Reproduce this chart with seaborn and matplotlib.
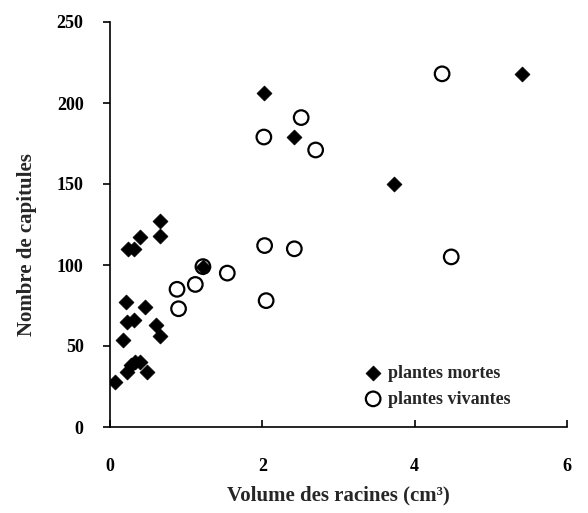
import matplotlib
matplotlib.use("Agg")
import matplotlib.pyplot as plt
import seaborn as sns
import pandas as pd

# Data
mortes_x = [0.07, 0.22, 0.27, 0.33, 0.40, 0.48, 0.17, 0.65, 0.22, 0.31, 0.61,
            0.21, 0.46, 0.24, 0.31, 0.40, 0.65, 0.65, 1.22, 2.02, 2.41, 3.73, 5.41]
mortes_y = [28, 34, 38, 40, 40, 34, 54, 56, 65, 66, 63,
            77, 74, 110, 110, 117, 118, 127, 99, 206, 179, 150, 218]
vivantes_x = [0.88, 0.90, 1.12, 1.22, 1.54, 2.03, 2.05, 2.42, 2.02, 2.51, 2.70, 4.36, 4.48]
vivantes_y = [85, 73, 88, 99, 95, 112, 78, 110, 179, 191, 171, 218, 105]
x_ticks = [0, 2, 4, 6]
y_ticks = [0, 50, 100, 150, 200, 250]
labels = ["plantes mortes", "plantes vivantes"]

sns.set_style("white")
plt.rcParams['font.family'] = ['Liberation Serif', 'DejaVu Serif']
plt.rcParams['font.weight'] = 'bold'

df_m = pd.DataFrame({"x": mortes_x, "y": mortes_y})
df_v = pd.DataFrame({"x": vivantes_x, "y": vivantes_y})

fig = plt.figure(figsize=(5.88, 5.13), dpi=100)
ax = fig.add_axes([110 / 588, 86 / 513, 457 / 588, 405 / 513])

sns.scatterplot(data=df_m, x="x", y="y", ax=ax, marker="D", s=58,
                color="black", edgecolor="black", linewidth=0.5, label=labels[0], zorder=3)
sns.scatterplot(data=df_v, x="x", y="y", ax=ax, marker="o", s=110,
                facecolor="none", edgecolor="black", linewidth=1.6, label=labels[1], zorder=4)

ax.set_xlim(0, 6)
ax.set_ylim(0, 250)
ax.set_xticks(x_ticks)
ax.set_yticks(y_ticks)
ax.set_xticklabels([str(t) for t in x_ticks])
ax.set_yticklabels([str(t) for t in y_ticks])

for side in ["top", "right"]:
    ax.spines[side].set_visible(False)
for side in ["left", "bottom"]:
    ax.spines[side].set_linewidth(1.2)
    ax.spines[side].set_color("black")

ax.tick_params(axis="x", direction="in", length=5, width=1.2, pad=22, labelsize=13, colors="black")
ax.tick_params(axis="y", direction="out", length=5, width=1.2, pad=14, labelsize=13, colors="black")
ax.tick_params(left=True, bottom=True)

ax.set_xlabel("Volume des racines (cm³)", fontsize=15, fontweight="bold", labelpad=8)
ax.set_ylabel("Nombre de capitules", fontsize=15, fontweight="bold")
ax.yaxis.set_label_coords(-0.159, 0.45)

leg = ax.legend(loc="center left", bbox_to_anchor=(0.56, 0.101), frameon=False,
                fontsize=13, handlelength=0.8, handletextpad=0.45, labelspacing=0.5,
                borderpad=0, borderaxespad=0)

fig.savefig("out.png", dpi=100)
